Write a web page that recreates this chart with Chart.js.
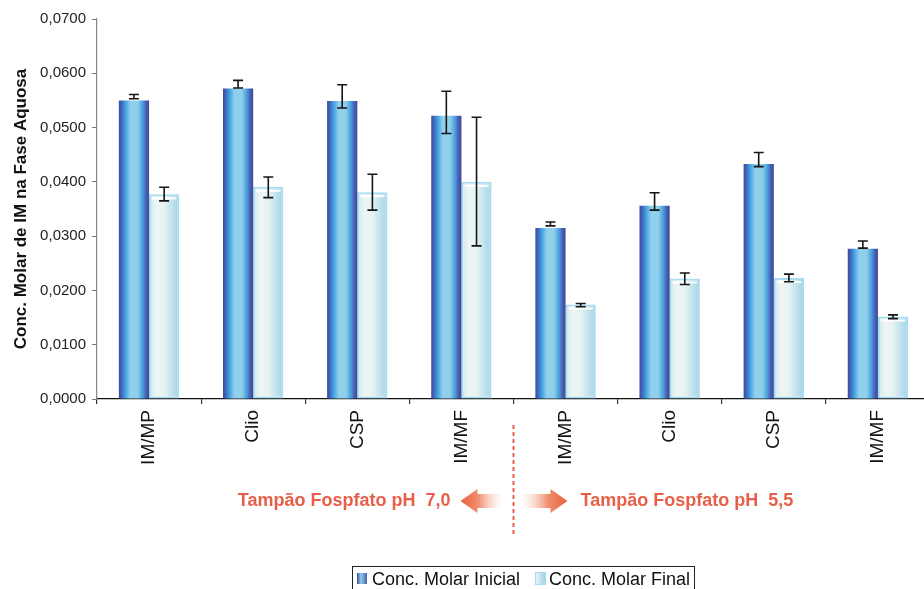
<!DOCTYPE html>
<html>
<head>
<meta charset="utf-8">
<script src="https://cdn.jsdelivr.net/npm/chart.js@4.4.1/dist/chart.umd.min.js"></script>
<style>
  html, body { margin: 0; padding: 0; background: #fff; overflow: hidden; }
  #wrap { position: relative; width: 930px; height: 589px; }
</style>
</head>
<body>
<div id="wrap"><canvas id="chrt"></canvas></div>
<script>
// ---------------- data ----------------
var labels = ['IM/MP', 'Clio', 'CSP', 'IM/MF', 'IM/MP', 'Clio', 'CSP', 'IM/MF'];
var seriesNames = ['Conc. Molar Inicial', 'Conc. Molar Final'];
var inicial = [0.0550, 0.0572, 0.0549, 0.0522, 0.0315, 0.0356, 0.0433, 0.0277];
var final = [0.0377, 0.0391, 0.0381, 0.0400, 0.0174, 0.0222, 0.0223, 0.0152];
// error bar ends (top / bottom cap)
var inicialErrHi = [0.0561, 0.0587, 0.0579, 0.0567, 0.0326, 0.0380, 0.0454, 0.0291];
var inicialErrLo = [0.0553, 0.0573, 0.0536, 0.0489, 0.0319, 0.0348, 0.0428, 0.0278];
var finalErrHi = [0.0390, 0.0409, 0.0414, 0.0519, 0.0176, 0.0232, 0.0230, 0.0155];
var finalErrLo = [0.0365, 0.0371, 0.0348, 0.0282, 0.0170, 0.0211, 0.0216, 0.0148];
var groupLabels = ['Tampão Fospfato pH  7,0', 'Tampão Fospfato pH  5,5'];
var yTitle = 'Conc. Molar de IM na Fase Aquosa';

var FONT = '"Liberation Sans", Arial, sans-serif';
var RED = '#e85f48';
var catPct = 0.58;

//======================== gradients =========================
function barSpan(chart, i, side) {
    var xs = chart.scales.x;
    var c = xs.getPixelForValue(i);
    var w = xs.width / labels.length * catPct / 2;
    return side === 0 ? [c - w, c] : [c, c + w];
}

function blueFill(ctx) {
    var chart = ctx.chart;
    if (!chart.chartArea || ctx.dataIndex === undefined) return '#4a9ad8';
    var s = barSpan(chart, ctx.dataIndex, 0);
    var g = chart.ctx.createLinearGradient(s[0], 0, s[1], 0);
    g.addColorStop(0, '#3f4896');
    g.addColorStop(0.1, '#3d6cc0');
    g.addColorStop(0.22, '#45a2e2');
    g.addColorStop(0.38, '#90d0ec');
    g.addColorStop(0.62, '#90cfea');
    g.addColorStop(0.78, '#4aa2de');
    g.addColorStop(0.9, '#4660b2');
    g.addColorStop(1, '#404598');
    return g;
}

function lightFill(ctx) {
    var chart = ctx.chart;
    if (!chart.chartArea || ctx.dataIndex === undefined) return '#d8eef4';
    var s = barSpan(chart, ctx.dataIndex, 1);
    var g = chart.ctx.createLinearGradient(s[0], 0, s[1], 0);
    g.addColorStop(0, '#cfe8ee');
    g.addColorStop(0.25, '#eef6f4');
    g.addColorStop(0.5, '#e6f3f2');
    g.addColorStop(1, '#9fd2e8');
    return g;
}

//======================== plugins ===========================
var errorBars = {
    id: 'errorBars',
    afterDatasetsDraw: function(chart) {
        var c = chart.ctx, y = chart.scales.y;
        // white highlight line inside final bars
        var m1 = chart.getDatasetMeta(1);
        c.save();
        c.strokeStyle = '#ffffff';
        c.lineWidth = 2;
        m1.data.forEach(function(el) {
            var h = el.width / 2 - 3;
            c.beginPath();
            c.moveTo(el.x - h, el.y + 4);
            c.lineTo(el.x + h, el.y + 4);
            c.stroke();
        });
        var sets = [[inicialErrHi, inicialErrLo], [finalErrHi, finalErrLo]];
        c.strokeStyle = '#161616';
        c.lineWidth = 1.6;
        sets.forEach(function(e, d) {
            chart.getDatasetMeta(d).data.forEach(function(el, i) {
                var yh = y.getPixelForValue(e[0][i]);
                var yl = y.getPixelForValue(e[1][i]);
                c.beginPath();
                c.moveTo(el.x, yh); c.lineTo(el.x, yl);
                c.moveTo(el.x - 5, yh); c.lineTo(el.x + 5, yh);
                c.moveTo(el.x - 5, yl); c.lineTo(el.x + 5, yl);
                c.stroke();
            });
        });
        c.restore();
    }
};

var extras = {
    id: 'extras',
    afterDraw: function(chart) {
        var c = chart.ctx, xs = chart.scales.x;
        var div = (xs.getPixelForValue(3) + xs.getPixelForValue(4)) / 2;
        var ty = 501;
        c.save();
        // dashed divider
        c.strokeStyle = RED;
        c.lineWidth = 2;
        c.setLineDash([4, 3]);
        c.beginPath();
        c.moveTo(div, 425); c.lineTo(div, 537);
        c.stroke();
        c.setLineDash([]);
        // group labels
        c.fillStyle = RED;
        c.font = 'bold 18px ' + FONT;
        c.textBaseline = 'middle';
        c.textAlign = 'right';
        c.fillText(groupLabels[0], div - 63, ty);
        c.textAlign = 'left';
        c.fillText(groupLabels[1], div + 67, ty);
        // arrows
        function arrow(tip, tail) {
            var dir = tail > tip ? 1 : -1;
            var head = tip + dir * 17;
            var g = c.createLinearGradient(tip, 0, tail, 0);
            g.addColorStop(0, '#e8603e');
            g.addColorStop(0.45, '#f09070');
            g.addColorStop(1, 'rgba(250,220,205,0.15)');
            c.fillStyle = g;
            c.beginPath();
            c.moveTo(tip, ty);
            c.lineTo(head, ty - 12);
            c.lineTo(head, ty - 7);
            c.lineTo(tail, ty - 7);
            c.lineTo(tail, ty + 7);
            c.lineTo(head, ty + 7);
            c.lineTo(head, ty + 12);
            c.closePath();
            c.fill();
        }
        arrow(div - 53, div - 13);
        arrow(div + 54, div + 10);
        // legend box
        var lx = 352, ly = 566;
        c.strokeStyle = '#222';
        c.lineWidth = 1;
        c.strokeRect(lx + 0.5, ly + 0.5, 342, 30);
        c.font = '18px ' + FONT;
        c.textAlign = 'left';
        c.textBaseline = 'alphabetic';
        var g1 = c.createLinearGradient(lx + 5, 0, lx + 15, 0);
        g1.addColorStop(0, '#3f4896'); g1.addColorStop(0.4, '#90d0ec'); g1.addColorStop(1, '#4660b2');
        c.fillStyle = g1;
        c.fillRect(lx + 5, ly + 7, 10, 11);
        c.fillStyle = '#111';
        c.fillText(seriesNames[0], lx + 20, ly + 19);
        var x2 = lx + 183;
        var g2 = c.createLinearGradient(x2, 0, x2 + 10, 0);
        g2.addColorStop(0, '#eef6f4'); g2.addColorStop(1, '#9fd2e8');
        c.fillStyle = g2;
        c.fillRect(x2, ly + 6, 10, 13);
        c.strokeStyle = '#a8dcf0';
        c.strokeRect(x2 + 0.5, ly + 6.5, 10, 12);
        c.fillStyle = '#111';
        c.fillText(seriesNames[1], x2 + 14, ly + 19);
        c.restore();
    }
};

//======================== chart =============================
var chrt = document.getElementById('chrt').getContext('2d');
var config = {
    type: 'bar',
    data: {
        labels: labels,
        datasets: [{
            label: seriesNames[0],
            data: inicial,
            backgroundColor: blueFill,
            borderWidth: 0,
            categoryPercentage: catPct,
            barPercentage: 1.0
        }, {
            label: seriesNames[1],
            data: final,
            backgroundColor: lightFill,
            borderColor: '#a8dcf0',
            borderWidth: 2,
            borderSkipped: false,
            categoryPercentage: catPct,
            barPercentage: 1.0
        }]
    },
    options: {
        responsive: true,
        maintainAspectRatio: false,
        animation: false,
        layout: { padding: { top: 19, right: 0, left: 0, bottom: 0 } },
        plugins: {
            legend: { display: false },
            tooltip: { enabled: false }
        },
        scales: {
            x: {
                grid: { drawOnChartArea: false, offset: true, tickLength: 5, color: '#333', lineWidth: 1.2 },
                border: { color: '#111', width: 1.2 },
                ticks: {
                    color: '#111',
                    font: { family: FONT, size: 19 },
                    minRotation: 90, maxRotation: 90,
                    padding: 6
                },
                afterFit: function(s) { s.height = 190; }
            },
            y: {
                min: 0, max: 0.07,
                grid: { drawOnChartArea: false, tickLength: 5, color: '#777' },
                border: { color: '#888', width: 1.2 },
                ticks: {
                    stepSize: 0.01,
                    color: '#222',
                    font: { family: FONT, size: 15 },
                    padding: 6,
                    callback: function(v) { return v.toFixed(4).replace('.', ','); }
                },
                title: {
                    display: true,
                    text: yTitle,
                    color: '#111',
                    font: { family: FONT, size: 17, weight: 'bold' },
                    padding: { top: 11, bottom: 0 }
                },
                afterFit: function(s) { s.width = 97; }
            }
        }
    },
    plugins: [errorBars, extras]
};

var barChart = new Chart(chrt, config);
</script>
</body>
</html>
